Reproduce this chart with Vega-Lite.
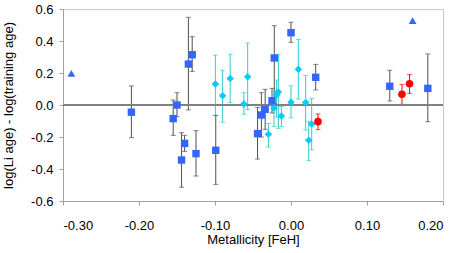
{
  "$schema": "https://vega.github.io/schema/vega-lite/v6.json",
  "autosize": {"type": "none"},
  "padding": {"left": 63, "top": 9, "right": 20, "bottom": 52},
  "width": 380,
  "height": 192,
  "config": {
    "locale": {"number": {"decimal": ".", "thousands": ",", "grouping": [3], "currency": ["$", ""], "minus": "-"}},
    "view": {"stroke": "#c8c8c8", "strokeWidth": 1},
    "font": "Liberation Sans",
    "axis": {
      "labelFont": "Liberation Sans", "titleFont": "Liberation Sans",
      "labelFontSize": 13, "titleFontSize": 13, "titleFontWeight": "normal",
      "labelColor": "#000000", "titleColor": "#000000",
      "domainColor": "#a0a0a0", "tickColor": "#a0a0a0", "tickSize": 4, "grid": false,
      "labelOverlap": false
    }
  },
  "data": {"values": [
    {"g": "blue", "x": -0.21, "y": -0.045, "lo": -0.204, "hi": 0.119},
    {"g": "blue", "x": -0.155, "y": -0.085, "lo": -0.19, "hi": 0.031},
    {"g": "blue", "x": -0.15, "y": 0.0, "lo": -0.073, "hi": 0.077},
    {"g": "blue", "x": -0.135, "y": 0.256, "lo": -0.031, "hi": 0.548},
    {"g": "blue", "x": -0.13, "y": 0.314, "lo": 0.21, "hi": 0.427},
    {"g": "blue", "x": -0.144, "y": -0.344, "lo": -0.514, "hi": -0.173},
    {"g": "blue", "x": -0.14, "y": -0.24, "lo": -0.29, "hi": -0.19},
    {"g": "blue", "x": -0.125, "y": -0.304, "lo": -0.444, "hi": -0.16},
    {"g": "blue", "x": -0.099, "y": -0.283, "lo": -0.496, "hi": -0.065},
    {"g": "blue", "x": -0.044, "y": -0.179, "lo": -0.338, "hi": -0.015},
    {"g": "blue", "x": -0.039, "y": -0.0625, "lo": -0.2, "hi": 0.077},
    {"g": "blue", "x": -0.034, "y": -0.027, "lo": -0.152, "hi": 0.098},
    {"g": "blue", "x": -0.025, "y": 0.027, "lo": -0.05, "hi": 0.104},
    {"g": "blue", "x": -0.022, "y": 0.294, "lo": 0.01, "hi": 0.496},
    {"g": "blue", "x": 0.0, "y": 0.452, "lo": 0.392, "hi": 0.517},
    {"g": "blue", "x": 0.0325, "y": 0.173, "lo": 0.094, "hi": 0.254},
    {"g": "blue", "x": 0.13, "y": 0.117, "lo": 0.025, "hi": 0.217},
    {"g": "blue", "x": 0.18, "y": 0.104, "lo": -0.104, "hi": 0.319},
    {"g": "cyan", "x": -0.0995, "y": 0.131, "lo": -0.067, "hi": 0.3125},
    {"g": "cyan", "x": -0.09, "y": 0.058, "lo": -0.108, "hi": 0.217},
    {"g": "cyan", "x": -0.08, "y": 0.165, "lo": 0.015, "hi": 0.317},
    {"g": "cyan", "x": -0.062, "y": 0.006, "lo": -0.058, "hi": 0.077},
    {"g": "cyan", "x": -0.057, "y": 0.177, "lo": -0.029, "hi": 0.3875},
    {"g": "cyan", "x": -0.0297, "y": -0.183, "lo": -0.2625, "hi": -0.115},
    {"g": "cyan", "x": -0.0224, "y": -0.019, "lo": -0.135, "hi": 0.09},
    {"g": "cyan", "x": -0.019, "y": 0.0625, "lo": -0.077, "hi": 0.156},
    {"g": "cyan", "x": -0.0166, "y": 0.081, "lo": -0.146, "hi": 0.317},
    {"g": "cyan", "x": -0.0126, "y": -0.069, "lo": -0.135, "hi": -0.01},
    {"g": "cyan", "x": 0.0, "y": 0.017, "lo": -0.08, "hi": 0.12},
    {"g": "cyan", "x": 0.0097, "y": 0.223, "lo": 0.0375, "hi": 0.41},
    {"g": "cyan", "x": 0.0193, "y": 0.015, "lo": -0.156, "hi": 0.185},
    {"g": "cyan", "x": 0.0233, "y": -0.221, "lo": -0.348, "hi": -0.102},
    {"g": "cyan", "x": 0.0272, "y": -0.119, "lo": -0.28, "hi": 0.04},
    {"g": "red", "x": 0.0355, "y": -0.104, "lo": -0.154, "hi": -0.056},
    {"g": "red", "x": 0.146, "y": 0.067, "lo": 0.004, "hi": 0.129},
    {"g": "red", "x": 0.156, "y": 0.133, "lo": 0.073, "hi": 0.19},
    {"g": "tri", "x": -0.289, "y": 0.198, "lo": null, "hi": null},
    {"g": "tri", "x": 0.16, "y": 0.527, "lo": null, "hi": null}
  ]},
  "encoding": {
    "x": {"field": "x", "type": "quantitative",
      "scale": {"domain": [-0.3, 0.2], "nice": false, "zero": false},
      "axis": {"values": [-0.3, -0.2, -0.1, 0, 0.1, 0.2], "format": ".2f", "title": "Metallicity [FeH]", "labelPadding": 14, "titlePadding": 1}
    }
  },
  "layer": [
    {
      "mark": {"type": "rule", "strokeWidth": 1},
      "encoding": {
        "y": {"field": "lo", "type": "quantitative",
          "scale": {"domain": [-0.6, 0.6], "nice": false, "zero": false},
          "axis": {"values": [-0.6, -0.4, -0.2, 0, 0.2, 0.4, 0.6], "format": ".1f", "title": "log(Li age) - log(training  age)", "labelPadding": 6, "titlePadding": 15}
        },
        "y2": {"field": "hi"},
        "color": {"field": "g", "type": "nominal", "legend": null,
          "scale": {"domain": ["blue", "cyan", "red", "tri"], "range": ["#505050", "#33cccc", "#ff0000", "#3366ff"]}}
      }
    },
    {
      "mark": {"type": "tick", "orient": "horizontal", "size": 5, "thickness": 1},
      "encoding": {
        "y": {"field": "lo", "type": "quantitative",
          "axis": {"values": [-0.6, -0.4, -0.2, 0, 0.2, 0.4, 0.6], "format": ".1f", "title": "log(Li age) - log(training  age)", "labelPadding": 6, "titlePadding": 15}},
        "color": {"field": "g", "type": "nominal", "legend": null,
          "scale": {"domain": ["blue", "cyan", "red", "tri"], "range": ["#505050", "#33cccc", "#ff0000", "#3366ff"]}}
      }
    },
    {
      "mark": {"type": "tick", "orient": "horizontal", "size": 5, "thickness": 1},
      "encoding": {
        "y": {"field": "hi", "type": "quantitative",
          "axis": {"values": [-0.6, -0.4, -0.2, 0, 0.2, 0.4, 0.6], "format": ".1f", "title": "log(Li age) - log(training  age)", "labelPadding": 6, "titlePadding": 15}},
        "color": {"field": "g", "type": "nominal", "legend": null,
          "scale": {"domain": ["blue", "cyan", "red", "tri"], "range": ["#505050", "#33cccc", "#ff0000", "#3366ff"]}}
      }
    },
    {
      "mark": {"type": "rule", "color": "#808080", "strokeWidth": 1},
      "encoding": {"y": {"datum": 0, "type": "quantitative",
          "axis": {"values": [-0.6, -0.4, -0.2, 0, 0.2, 0.4, 0.6], "format": ".1f", "title": "log(Li age) - log(training  age)", "labelPadding": 6, "titlePadding": 15}},
        "x": {"value": 0}, "x2": {"value": 380}}
    },
    {
      "mark": {"type": "point", "filled": true, "opacity": 1, "size": 50},
      "encoding": {
        "y": {"field": "y", "type": "quantitative",
          "axis": {"values": [-0.6, -0.4, -0.2, 0, 0.2, 0.4, 0.6], "format": ".1f", "title": "log(Li age) - log(training  age)", "labelPadding": 6, "titlePadding": 15}},
        "shape": {"field": "g", "type": "nominal", "legend": null,
          "scale": {"domain": ["blue", "cyan", "red", "tri"], "range": ["square", "diamond", "circle", "triangle-up"]}},
        "fill": {"field": "g", "type": "nominal", "legend": null,
          "scale": {"domain": ["blue", "cyan", "red", "tri"], "range": ["#3366ff", "#00ccff", "#ff0000", "#3366ff"]}},
        "size": {"field": "g", "type": "nominal", "legend": null,
          "scale": {"domain": ["blue", "cyan", "red", "tri"], "range": [55, 60, 45, 70]}}
      }
    }
  ],
  "resolve": {"scale": {"color": "independent"}}
}
